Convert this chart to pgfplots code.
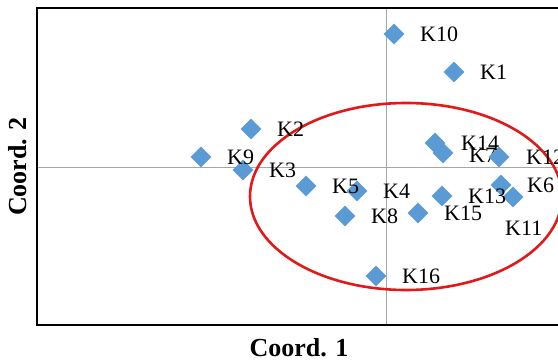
\documentclass[border=0pt]{standalone}
\usepackage{pgfplots}
\pgfplotsset{compat=1.18}
\usepackage{pgfplotstable}
\usepackage{fontspec}
\setmainfont{Liberation Serif}
\definecolor{ptblue}{RGB}{91,155,213}
\definecolor{ellred}{RGB}{225,25,25}
\pgfplotstableread{
x y lab dx dy
0.68 0.95 K1 26 0
-1.35 0.38 K2 26 0
-1.43 -0.03 K3 26 0
-0.29 -0.24 K4 26 0
-0.80 -0.19 K5 26 0
1.15 -0.18 K6 26 0
0.57 0.14 K7 26 -2
-0.41 -0.49 K8 26 0
-1.85 0.10 K9 26 0
0.08 1.33 K10 26 0
1.27 -0.30 K11 -8 -31
1.13 0.10 K12 27 0
0.56 -0.29 K13 26 0
0.49 0.24 K14 26 0
0.32 -0.46 K15 26 0
-0.10 -1.09 K16 26 0
}\pts
\begin{document}
\begin{tikzpicture}[x=1pt,y=1pt]
\path[use as bounding box] (0,0) rectangle (558,-363);
\clip (0,0) rectangle (558,-363);
\begin{axis}[
  at={(37,-325)}, anchor=south west,
  scale only axis, width=524pt, height=317pt,
  xmin=-3.49, xmax=1.75, ymin=-1.58, ymax=1.59,
  axis line style={line width=1.6pt, black},
  xtick={0}, ytick={0}, xticklabels={}, yticklabels={},
  major tick length=0pt,
  grid=major, major grid style={line width=0.8pt, black!35},
  xlabel={\bfseries Coord. 1}, ylabel={\bfseries Coord. 2},
  label style={font=\fontsize{26}{26}\selectfont},
  xlabel style={at={(axis description cs:0.5,0)}, anchor=center, yshift=-23pt},
  ylabel style={at={(axis description cs:0,0.5)}, anchor=center, xshift=0pt, yshift=19pt},
  clip=false,
]
\draw[ellred, line width=2.6pt] (axis cs:0.20,-0.295) ellipse [x radius=1.56, y radius=0.935];
\addplot[only marks, mark=square*, mark size=7.2pt,
  mark options={rotate=45, fill=ptblue, draw=ptblue},
  point meta=explicit symbolic,
  visualization depends on={\thisrow{dx} \as \ldx},
  visualization depends on={\thisrow{dy} \as \ldy},
  nodes near coords,
  nodes near coords style={anchor=west, xshift=\ldx pt, yshift=\ldy pt, inner sep=0pt,
    font=\fontsize{22}{22}\selectfont, text=black}
] table[x=x, y=y, meta=lab] {\pts};
\end{axis}
\end{tikzpicture}
\end{document}
